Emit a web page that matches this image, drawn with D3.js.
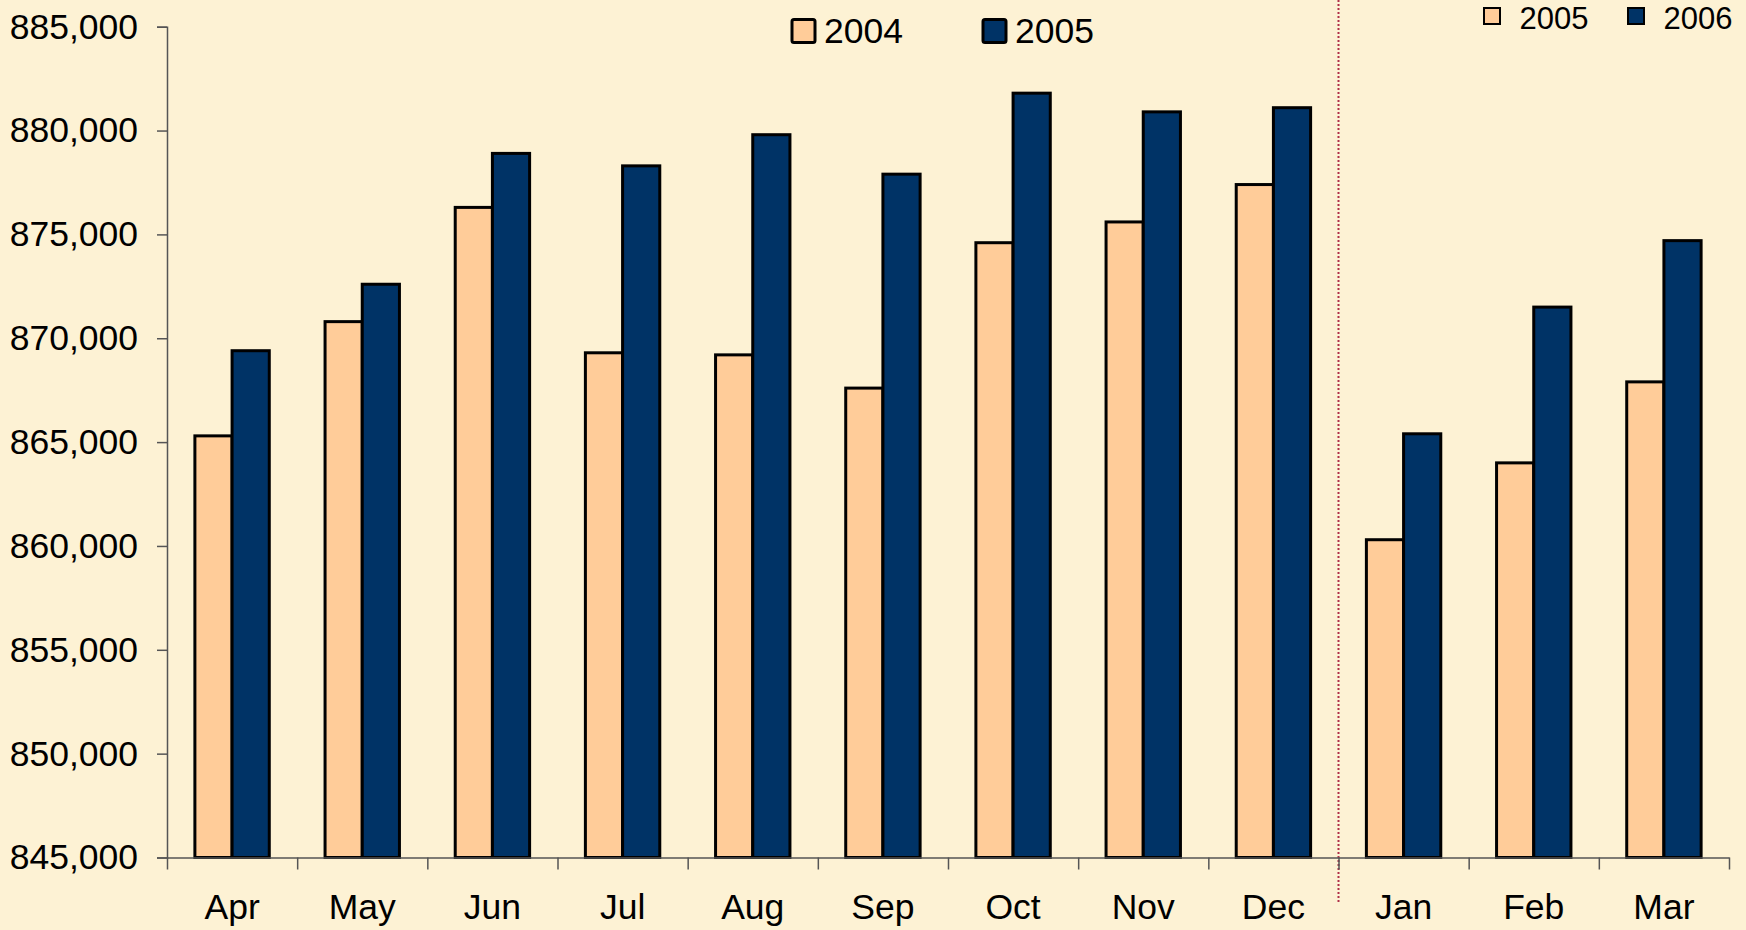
<!DOCTYPE html>
<html>
<head>
<meta charset="utf-8">
<script src="https://cdn.jsdelivr.net/npm/d3@7"></script>
<style>
  body { margin: 0; background: #fdf2d4; }
  svg { display: block; }
  .axis text { font-family: "Liberation Sans", Arial, sans-serif; fill: #000; }
</style>
</head>
<body>
<script>
// Data
var months = ["Apr", "May", "Jun", "Jul", "Aug", "Sep", "Oct", "Nov", "Dec", "Jan", "Feb", "Mar"];
var prevYear = [865300, 870800, 876300, 869300, 869200, 867600, 874600, 875600, 877400, 860300, 864000, 867900];
var currYear = [869400, 872600, 878900, 878300, 879800, 877900, 881800, 880900, 881100, 865400, 871500, 874700];
var yTicks = [845000, 850000, 855000, 860000, 865000, 870000, 875000, 880000, 885000];
var legendLeft = ["2004", "2005"];
var legendRight = ["2005", "2006"];
var colors = ["#ffcc99", "#003366"];

// SVG variables
var width = 1746, height = 930;
var plot = {left: 167, right: 1729, top: 26.7, bottom: 857.5};

var svg = d3.select("body").append("svg")
    .attr("width", width)
    .attr("height", height)
    .style("background-color", "#fdf2d4");

// Scales
var x0 = d3.scaleBand().domain(months).range([plot.left, plot.right]).paddingInner(0);
var x1 = d3.scaleBand().domain([0, 1]).range([0, x0.bandwidth()]).paddingInner(0).paddingOuter(0.75);
var xi = d3.scaleLinear().domain([0, months.length]).range([plot.left, plot.right]);
var y = d3.scaleLinear().domain([845000, 885000]).range([plot.bottom, plot.top]);

var rows = months.map(function(m, i) {
    return {month: m, values: [prevYear[i], currYear[i]]};
});

// Y axis
var yaxis = d3.axisLeft(y)
    .tickValues(yTicks)
    .tickFormat(d3.format(","))
    .tickSize(10)
    .tickPadding(19);

var gy = svg.append("g")
    .attr("class", "axis")
    .attr("transform", "translate(" + plot.left + ",0)")
    .call(yaxis);
gy.selectAll("text").style("font-size", "35.5px");
gy.selectAll("line, path").attr("stroke", "#555").attr("stroke-width", 1.5);

// Divider between the two years
svg.append("line")
    .attr("x1", xi(9)).attr("x2", xi(9))
    .attr("y1", 0).attr("y2", 902)
    .attr("stroke", "#b03048")
    .attr("stroke-width", 2)
    .attr("stroke-dasharray", "2,2");

// Bars
var groups = svg.selectAll(".grp")
    .data(rows)
    .enter().append("g")
    .attr("class", "grp")
    .attr("transform", function(d) { return "translate(" + x0(d.month) + ",0)"; });

groups.selectAll("rect")
    .data(function(d) { return d.values.map(function(v, k) { return {k: k, v: v}; }); })
    .enter().append("rect")
    .attr("x", function(d) { return x1(d.k); })
    .attr("width", x1.bandwidth())
    .attr("y", function(d) { return y(d.v); })
    .attr("height", function(d) { return y(845000) - y(d.v); })
    .attr("fill", function(d) { return colors[d.k]; })
    .attr("stroke", "#000")
    .attr("stroke-width", 3);

// X axis: boundary ticks
var gx = svg.append("g")
    .attr("class", "axis")
    .attr("transform", "translate(0," + plot.bottom + ")")
    .call(d3.axisBottom(xi).tickValues(d3.range(months.length + 1)).tickFormat("").tickSize(12).tickSizeOuter(0));
gx.selectAll("line, path").attr("stroke", "#555").attr("stroke-width", 1.5);

// X axis: month labels
var gl = svg.append("g")
    .attr("class", "axis")
    .attr("transform", "translate(0," + plot.bottom + ")")
    .call(d3.axisBottom(x0).tickSize(0).tickPadding(36.6));
gl.select(".domain").remove();
gl.selectAll("text").style("font-size", "35.5px");

// Legend (left part)
var leg1 = svg.append("g").attr("class", "axis");
var leg1x = [792, 983];
legendLeft.forEach(function(t, i) {
    leg1.append("rect")
        .attr("x", leg1x[i]).attr("y", 19.5)
        .attr("width", 23).attr("height", 23)
        .attr("rx", 2)
        .attr("fill", colors[i]).attr("stroke", "#000").attr("stroke-width", 3);
    leg1.append("text")
        .attr("x", leg1x[i] + 32).attr("y", 43)
        .style("font-size", "35.5px")
        .text(t);
});

// Legend (right part)
var leg2 = svg.append("g").attr("class", "axis");
var leg2x = [1484, 1628];
legendRight.forEach(function(t, i) {
    leg2.append("rect")
        .attr("x", leg2x[i]).attr("y", 8)
        .attr("width", 16).attr("height", 16)
        .attr("fill", colors[i]).attr("stroke", "#000").attr("stroke-width", 2);
    leg2.append("text")
        .attr("x", leg2x[i] + 35.5).attr("y", 29)
        .style("font-size", "31px")
        .text(t);
});
</script>
</body>
</html>
